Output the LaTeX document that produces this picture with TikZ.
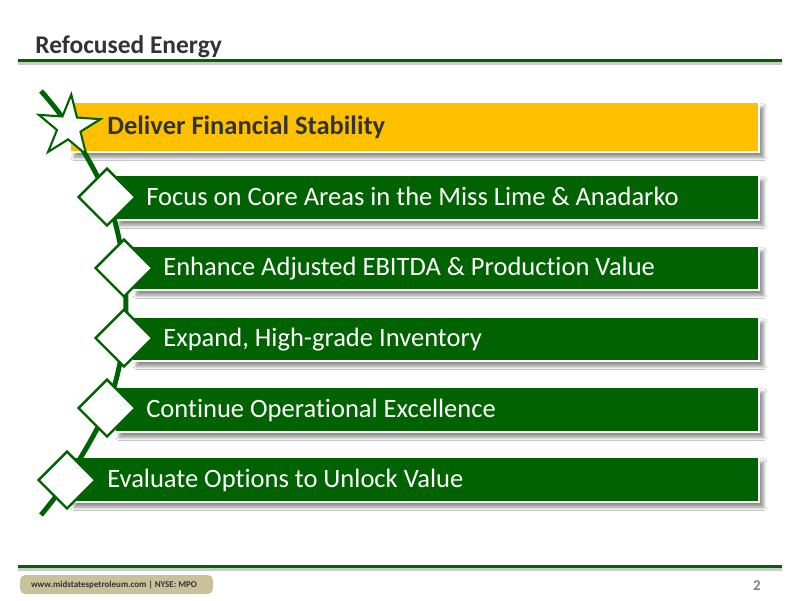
\documentclass[tikz,border=0pt]{standalone}
\usepackage{fontspec}
\setmainfont{Carlito}[Ligatures=NoCommon]
\usetikzlibrary{shapes.geometric,shadows.blur}
\definecolor{mgreen}{RGB}{0,98,0}
\definecolor{myellow}{RGB}{255,192,0}
\definecolor{mgrey}{RGB}{51,51,51}
\definecolor{mtan}{RGB}{201,193,154}
\begin{document}
\begin{tikzpicture}[x=0.02cm, y=-0.02cm,
    bar/.style={draw=white, line width=0.6pt,
      blur shadow={shadow xshift=2.5pt, shadow yshift=-3pt, shadow blur steps=6, shadow opacity=45}},
    bartext/.style={anchor=base west, text=white, inner sep=0pt, font=\fontsize{15.1}{18}\selectfont},
    dia/.style={diamond, draw=mgreen, fill=white, line width=1.4pt, minimum size=1.16cm, inner sep=0pt},
    spine/.style={mgreen, line width=2.8pt},
    rule/.style={mgreen, line width=1.7pt}]
    % Page
    \fill[white] (0,0) rectangle (800,600);
    \useasboundingbox (0,0) rectangle (800,600);

    % Title and rules
    \node[anchor=base west, inner sep=0pt, text=mgrey, font=\fontsize{14.5}{17}\selectfont\bfseries] (title) at (35,53) {Refocused Energy};
    \draw[gray!40, line width=2pt] (18,63) -- (782,63);
    \draw[rule] (18,60) -- (782,60);
    \draw[gray!40, line width=2pt] (18,569) -- (782,569);
    \draw[rule] (18,566) -- (782,566);

    % Bars
    \path[bar, fill=myellow] (70,102) rectangle (759,152);
    \path[bar, fill=mgreen] (115,175) rectangle (759,220);
    \path[bar, fill=mgreen] (132,246) rectangle (759,290);
    \path[bar, fill=mgreen] (132,317) rectangle (759,361);
    \path[bar, fill=mgreen] (115,387) rectangle (759,432);
    \path[bar, fill=mgreen] (70,457) rectangle (759,502);

    % Spine through the markers
    \coordinate (s0) at (41,91);
    \coordinate (c0) at (69,127);
    \coordinate (c1) at (107,197);
    \coordinate (c2) at (124,268);
    \coordinate (c3) at (124,338);
    \coordinate (c4) at (107,408);
    \coordinate (c5) at (67,480);
    \coordinate (s6) at (41,515);
    \draw[spine] plot[smooth, tension=0.55] coordinates {(s0) (c0) (c1) (c2) (c3) (c4) (c5) (s6)};

    % Markers
    \node[star, star points=5, star point ratio=2.618, draw=mgreen, fill=white, line width=1.2pt,
      minimum size=1.3cm, inner sep=0pt, rotate=-4] (st) at (c0) {};
    \foreach \i in {1,...,5}
      \node[dia] (d\i) at (c\i) {};

    % Texts
    \node[anchor=base west, inner sep=0pt, text=mgrey, font=\fontsize{15.1}{18}\selectfont\bfseries] (t0) at (107,134) {Deliver Financial Stability};
    \node[bartext] (t1) at (146,205) {Focus on Core Areas in the Miss Lime \& Anadarko};
    \node[bartext] (t2) at (163,275.5) {Enhance Adjusted EBITDA \& Production Value};
    \node[bartext] (t3) at (163,346.5) {Expand, High-grade Inventory};
    \node[bartext] (t4) at (146,417) {Continue Operational Excellence};
    \node[bartext] (t5) at (107,487) {Evaluate Options to Unlock Value};

    % Footer
    \fill[mtan, rounded corners=3pt] (20,575) rectangle (213,594);
    \node[anchor=base, inner sep=0pt, text=mgrey, font=\fontsize{5.1}{6}\selectfont\bfseries] (web) at (114,587.5) {www.midstatespetroleum.com | NYSE: MPO};
    \node[anchor=base, inner sep=0pt, text=gray, font=\fontsize{8.5}{10}\selectfont\bfseries] (page) at (757,590) {2};
\end{tikzpicture}
\end{document}
